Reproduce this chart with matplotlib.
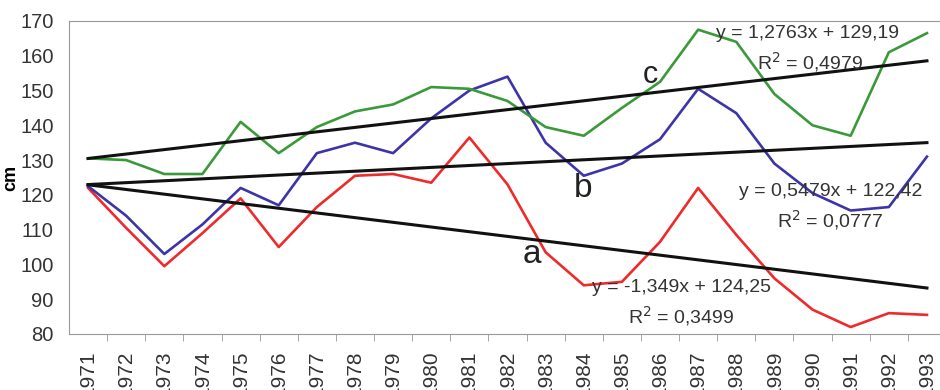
import numpy as np
import matplotlib.pyplot as plt

plt.rcParams['font.family'] = ['Liberation Sans', 'DejaVu Sans']

# data
years = [str(y) for y in range(1971, 1994)]
a_vals = [122, 110.5, 99.5, 109, 119, 105, 116.5, 125.5, 126, 123.5, 136.5, 123,
          103.5, 94, 95, 106.5, 122, 108.5, 96, 87, 82, 86, 85.5]
b_vals = [122.5, 114, 103, 111.5, 122, 117, 132, 135, 132, 142, 150, 154,
          135, 125.5, 129, 136, 150.5, 143.5, 129, 120.5, 115.5, 116.5, 131]
c_vals = [130.5, 130, 126, 126, 141, 132, 139.5, 144, 146, 151, 150.5, 147,
          139.5, 137, 145, 152.5, 167.5, 164, 149, 140, 137, 161, 166.5]

# trend line coefficients as printed on the chart (x = 1..23)
slopes = [-1.349, 0.5479, 1.2763]
intercepts = [124.25, 122.42, 129.19]
r2 = ['0,3499', '0,0777', '0,4979']
eq_text = ['y = -1,349x + 124,25', 'y = 0,5479x + 122,42', 'y = 1,2763x + 129,19']

fig = plt.figure(figsize=(9.4, 3.9), dpi=100)
ax = fig.add_axes([0.0734, 0.1436, 0.9330, 0.8026])

x = np.arange(1, len(years) + 1)
ax.plot(x, a_vals, color='#ee2a2a', lw=1.9)
ax.plot(x, b_vals, color='#3c34a8', lw=1.9)
ax.plot(x, c_vals, color='#3a9a3a', lw=1.9)

xe = np.array([x[0], x[-1]])
for m, b in zip(slopes, intercepts):
    ax.plot(xe, m * xe + b, color='#111111', lw=2.2)

ax.set_xlim(0.5, len(years) + 0.5)
ax.set_ylim(80, 170)
ax.set_yticks(np.arange(80, 171, 10))
ax.set_xticks(x)
ax.set_xticklabels(years, rotation=90, fontsize=15, color='#333333')
ax.set_xticks(np.arange(1.5, len(years) + 0.5), minor=True)
ax.tick_params(axis='x', which='major', length=0, pad=12)
ax.tick_params(axis='x', which='minor', length=5, color='#999999')
ax.tick_params(axis='y', length=0, pad=11, labelsize=14.5, labelcolor='#333333')
for s in ax.spines.values():
    s.set_color('#999999')
ax.set_ylabel('cm', fontsize=13, fontweight='bold', labelpad=1)

# labels of the series
ax.text(15.75, 154.5, 'c', fontsize=22, color='#222222', ha='center', va='center')
ax.text(13.99, 121.8, 'b', fontsize=24, color='#222222', ha='center', va='center')
ax.text(12.65, 102.8, 'a', fontsize=24, color='#222222', ha='center', va='center')

# trend equations
tc = '#333333'
ax.text(19.87, 166.5, eq_text[2], fontsize=14, ha='center', va='center', color=tc)
ax.text(19.95, 158.2, 'R$^2$ = ' + r2[2], fontsize=14, ha='center', va='center', color=tc)
ax.text(20.47, 120.9, eq_text[1], fontsize=14, ha='center', va='center', color=tc)
ax.text(20.47, 112.8, 'R$^2$ = ' + r2[1], fontsize=14, ha='center', va='center', color=tc)
ax.text(16.56, 93.3, eq_text[0], fontsize=14, ha='center', va='center', color=tc)
ax.text(16.56, 85.2, 'R$^2$ = ' + r2[0], fontsize=14, ha='center', va='center', color=tc)

fig.savefig('out.png', dpi=100)
